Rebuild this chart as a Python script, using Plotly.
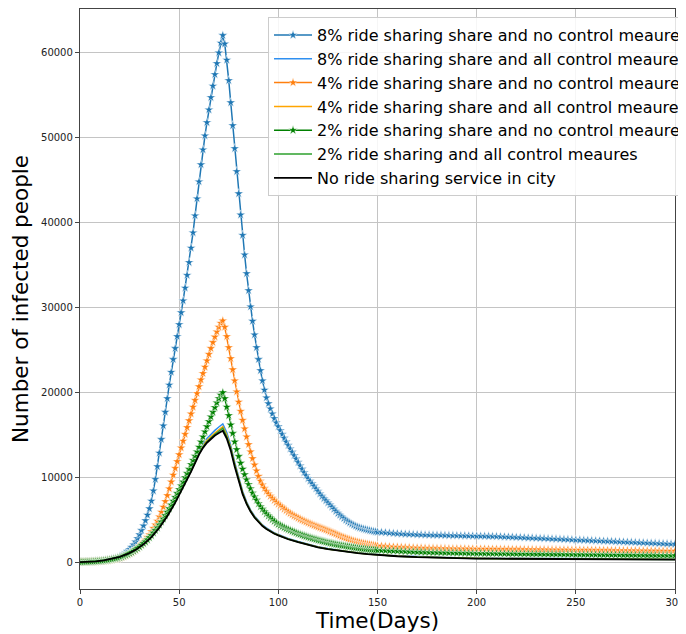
import plotly.graph_objects as go

# x positions (days) of the simulation outputs
STAR_DAYS = list(range(0, 151)) + list(range(152, 301, 2))
LINE_DAYS = (list(range(0, 60, 4)) + list(range(60, 100, 2))
             + list(range(100, 160, 5)) + list(range(160, 301, 10)))

# 8% ride sharing share, no control measures
share8_no_control = [
    60, 65, 75, 85, 95, 105, 115, 125, 140, 155,
    175, 200, 230, 265, 305, 350, 400, 460, 530, 620,
    720, 840, 980, 1140, 1330, 1550, 1800, 2100, 2450, 2850,
    3300, 3800, 4350, 4950, 5600, 6350, 7250, 8450, 9800, 11300,
    12900, 14500, 16100, 17700, 19300, 20900, 22400, 23900, 25200, 26600,
    28000, 29400, 30800, 32300, 33800, 35300, 37000, 38800, 40800, 42800,
    44800, 46800, 48550, 50200, 51750, 53250, 54700, 56050, 57400, 58700,
    59950, 61100, 62000, 61000, 59100, 56700, 54100, 51400, 48700, 46000,
    43400, 40900, 38500, 36200, 34000, 32000, 30100, 28400, 26800, 25300,
    23900, 22600, 21400, 20300, 19400, 18700, 18100, 17500, 16950, 16450,
    16000, 15550, 15100, 14650, 14200, 13800, 13400, 13000, 12600, 12200,
    11800, 11400, 11000, 10600, 10250, 9900, 9600, 9300, 9000, 8700,
    8400, 8100, 7800, 7550, 7300, 7050, 6800, 6550, 6300, 6050,
    5800, 5600, 5400, 5200, 5000, 4850, 4700, 4550, 4420, 4300,
    4200, 4110, 4030, 3960, 3900, 3840, 3780, 3730, 3680, 3640,
    3600,
    3570, 3530, 3490, 3450, 3420, 3390, 3360, 3340, 3320, 3300,
    3280, 3260, 3250, 3240, 3230, 3220, 3210, 3200, 3190, 3180,
    3170, 3160, 3150, 3140, 3130, 3120, 3110, 3100, 3090, 3080,
    3060, 3040, 3020, 3000, 2980, 2960, 2940, 2920, 2900, 2880,
    2860, 2840, 2820, 2800, 2780, 2760, 2740, 2720, 2700, 2680,
    2660, 2640, 2620, 2600, 2580, 2560, 2540, 2520, 2500, 2480,
    2460, 2440, 2420, 2400, 2380, 2360, 2340, 2320, 2300, 2280,
    2260, 2240, 2220, 2200, 2180,
]

# 4% ride sharing share, no control measures
share4_no_control = [
    58, 64, 70, 77, 85, 94, 104, 115, 128, 143,
    160, 180, 205, 230, 260, 295, 335, 380, 430, 490,
    560, 640, 730, 830, 940, 1060, 1200, 1350, 1520, 1710,
    1920, 2150, 2400, 2670, 2970, 3300, 3650, 4050, 4450, 4900,
    5400, 5950, 6550, 7200, 7900, 8700, 9500, 10300, 11100, 11900,
    12700, 13500, 14300, 15100, 15900, 16700, 17500, 18300, 19100, 19900,
    20700, 21500, 22250, 23000, 23750, 24500, 25200, 25900, 26550, 27150,
    27700, 28150, 28450, 27700, 26600, 25300, 24000, 22700, 21400, 20100,
    18900, 17800, 16750, 15750, 14800, 13900, 13050, 12250, 11500, 10800,
    10150, 9600, 9150, 8750, 8400, 8100, 7820, 7560, 7320, 7100,
    6900, 6700, 6500, 6310, 6130, 5960, 5800, 5650, 5510, 5380,
    5250, 5130, 5010, 4900, 4790, 4690, 4590, 4490, 4390, 4300,
    4210, 4120, 4030, 3940, 3850, 3760, 3670, 3570, 3470, 3370,
    3270, 3170, 3070, 2980, 2890, 2800, 2720, 2640, 2570, 2500,
    2440, 2380, 2320, 2270, 2220, 2170, 2130, 2090, 2050, 2010,
    1980,
    1950, 1920, 1890, 1860, 1840, 1820, 1800, 1780, 1760, 1745,
    1730, 1715, 1700, 1690, 1680, 1670, 1660, 1650, 1645, 1640,
    1635, 1630, 1625, 1620, 1615, 1610, 1605, 1600, 1595, 1590,
    1585, 1580, 1575, 1570, 1565, 1560, 1555, 1550, 1545, 1540,
    1535, 1530, 1525, 1520, 1515, 1510, 1505, 1500, 1495, 1490,
    1485, 1480, 1475, 1470, 1465, 1460, 1455, 1450, 1445, 1440,
    1435, 1430, 1425, 1420, 1415, 1410, 1405, 1400, 1395, 1390,
    1385, 1380, 1375, 1370, 1365,
]

# 2% ride sharing share, no control measures
share2_no_control = [
    50, 60, 70, 80, 90, 100, 110, 125, 140, 160,
    180, 200, 230, 260, 290, 330, 370, 420, 470, 530,
    600, 680, 770, 870, 980, 1100, 1230, 1370, 1520, 1680,
    1850, 2050, 2250, 2450, 2700, 2950, 3200, 3500, 3800, 4100,
    4450, 4800, 5150, 5550, 5950, 6350, 6800, 7250, 7700, 8150,
    8600, 9050, 9500, 10000, 10500, 11000, 11550, 12050, 12550, 13050,
    13600, 14200, 14800, 15400, 16000, 16600, 17150, 17700, 18250, 18800,
    19300, 19700, 20000, 19300, 18300, 17300, 16200, 15200, 14200, 13300,
    12500, 11700, 11000, 10350, 9750, 9200, 8700, 8200, 7750, 7350,
    6950, 6600, 6300, 6000, 5750, 5500, 5280, 5070, 4870, 4680,
    4500, 4370, 4250, 4130, 4010, 3900, 3800, 3700, 3600, 3500,
    3400, 3320, 3240, 3160, 3080, 3000, 2930, 2860, 2790, 2720,
    2650, 2590, 2530, 2470, 2410, 2350, 2300, 2250, 2200, 2150,
    2100, 2060, 2020, 1980, 1940, 1900, 1860, 1820, 1780, 1740,
    1700, 1670, 1640, 1610, 1580, 1550, 1530, 1510, 1490, 1470,
    1450,
    1430, 1410, 1390, 1370, 1350, 1330, 1310, 1290, 1270, 1250,
    1235, 1220, 1205, 1190, 1180, 1170, 1160, 1150, 1140, 1130,
    1120, 1110, 1100, 1090, 1080, 1075, 1070, 1065, 1060, 1055,
    1050, 1045, 1040, 1035, 1030, 1025, 1020, 1015, 1010, 1005,
    1000, 995, 990, 985, 980, 975, 970, 965, 960, 955,
    950, 945, 940, 935, 930, 925, 920, 915, 910, 905,
    900, 895, 890, 885, 880, 875, 870, 865, 860, 855,
    850, 845, 840, 835, 830,
]

# all control measures
share8_all_control = [
    60, 95, 165, 275, 450, 710, 1080, 1580, 2260, 3140, 4280, 5670, 7300, 9100, 11050,
    13100, 13950, 14600, 15100, 15550, 15950, 16300, 15300, 13800, 11800,
    9950, 8400, 7150, 6200, 5480, 4900, 4440, 4080, 3770, 3510,
    3300, 2840, 2480, 2150, 1870, 1650, 1460, 1310, 1180, 1060, 960, 880,
    810, 700, 620, 570, 540, 520, 500, 490, 480, 470, 460, 450, 440, 430, 420,
]
share4_all_control = [
    56, 90, 158, 265, 435, 690, 1050, 1540, 2200, 3070, 4190, 5560, 7170, 8950, 10880,
    12900, 13720, 14350, 14830, 15250, 15630, 16000, 15000, 13550, 11600,
    9780, 8250, 7020, 6100, 5390, 4820, 4370, 4010, 3710, 3450,
    3250, 2790, 2440, 2110, 1830, 1610, 1430, 1280, 1150, 1030, 930, 850,
    780, 670, 590, 540, 510, 490, 470, 460, 450, 440, 430, 420, 410, 400, 390,
]
share2_all_control = [
    53, 88, 154, 260, 428, 680, 1035, 1520, 2175, 3035, 4145, 5505, 7110, 8875, 10790,
    12800, 13610, 14220, 14690, 15100, 15450, 15800, 14800, 13420, 11500,
    9690, 8170, 6960, 6050, 5340, 4780, 4330, 3980, 3680, 3420,
    3220, 2770, 2420, 2090, 1810, 1590, 1410, 1260, 1130, 1010, 910, 830,
    760, 650, 570, 520, 490, 470, 450, 440, 430, 420, 410, 400, 390, 380, 370,
]
no_ride_sharing = [
    50, 85, 150, 255, 420, 670, 1020, 1500, 2150, 3000, 4100, 5450, 7050, 8800, 10700,
    12700, 13500, 14100, 14550, 14950, 15250, 15500, 14600, 13200, 11300,
    9500, 8050, 6900, 6000, 5300, 4750, 4300, 3950, 3650, 3400,
    3200, 2750, 2400, 2080, 1800, 1580, 1400, 1250, 1120, 1000, 900, 820,
    750, 640, 560, 510, 480, 460, 440, 430, 420, 410, 400, 390, 380, 370, 360,
]

LABELS = [
    "8% ride sharing share and no control meaures",
    "8% ride sharing share and all control meaures",
    "4% ride sharing share and no control meaures",
    "4% ride sharing share and all control meaures",
    "2% ride sharing share and no control meaures",
    "2% ride sharing and all control meaures",
    "No ride sharing service in city",
]

FONT = "DejaVu Sans"

fig = go.Figure()

# (label, days, values, colour, with stars)
series = [
    (LABELS[0], STAR_DAYS, share8_no_control, "#1f77b4", True),
    (LABELS[1], LINE_DAYS, share8_all_control, "#2f8ff0", False),
    (LABELS[2], STAR_DAYS, share4_no_control, "#ff7f0e", True),
    (LABELS[3], LINE_DAYS, share4_all_control, "#ffa500", False),
    (LABELS[4], STAR_DAYS, share2_no_control, "#008000", True),
    (LABELS[5], LINE_DAYS, share2_all_control, "#2ca02c", False),
    (LABELS[6], LINE_DAYS, no_ride_sharing, "#000000", False),
]

for name, days, vals, col, stars in series:
    if stars:
        fig.add_trace(go.Scatter(
            x=days, y=vals, name=name, mode="lines+markers",
            line=dict(color=col, width=1.5),
            marker=dict(symbol="star", size=7, color=col,
                        line=dict(color="white", width=0.5)),
        ))
    else:
        fig.add_trace(go.Scatter(
            x=days, y=vals, name=name, mode="lines",
            line=dict(color=col, width=1.8 if col == "#000000" else 1.5),
        ))

axis_common = dict(
    showgrid=True, gridcolor="#c4c4c4", gridwidth=1,
    showline=True, linecolor="#444444", linewidth=1.3, mirror=True,
    ticks="outside", ticklen=4, tickcolor="#444444",
    tickfont=dict(family=FONT, size=10, color="#222222"),
    zeroline=False,
)

# the page body adds an 8px offset, so the figure is drawn 8px smaller
fig.update_layout(
    width=678, height=626,
    margin=dict(l=72, r=11, t=1, b=45, autoexpand=False),
    paper_bgcolor="white", plot_bgcolor="white",
    font=dict(family=FONT, color="black"),
    xaxis=dict(axis_common, range=[0, 300], tickvals=[0, 50, 100, 150, 200, 250, 300],
               title=dict(text="Time(Days)", font=dict(family=FONT, size=21.5), standoff=5)),
    yaxis=dict(axis_common, range=[-3100, 65100],
               tickvals=[0, 10000, 20000, 30000, 40000, 50000, 60000], tickformat="d",
               title=dict(text="Number of infected people", font=dict(family=FONT, size=21.5),
                          standoff=7)),
    legend=dict(x=0.316, y=0.986, xanchor="left", yanchor="top", itemwidth=38,
                font=dict(family=FONT, size=16, color="black"),
                bgcolor="rgba(255,255,255,0.85)", bordercolor="#cccccc", borderwidth=1),
    showlegend=True,
)

fig.write_html("out.html")
